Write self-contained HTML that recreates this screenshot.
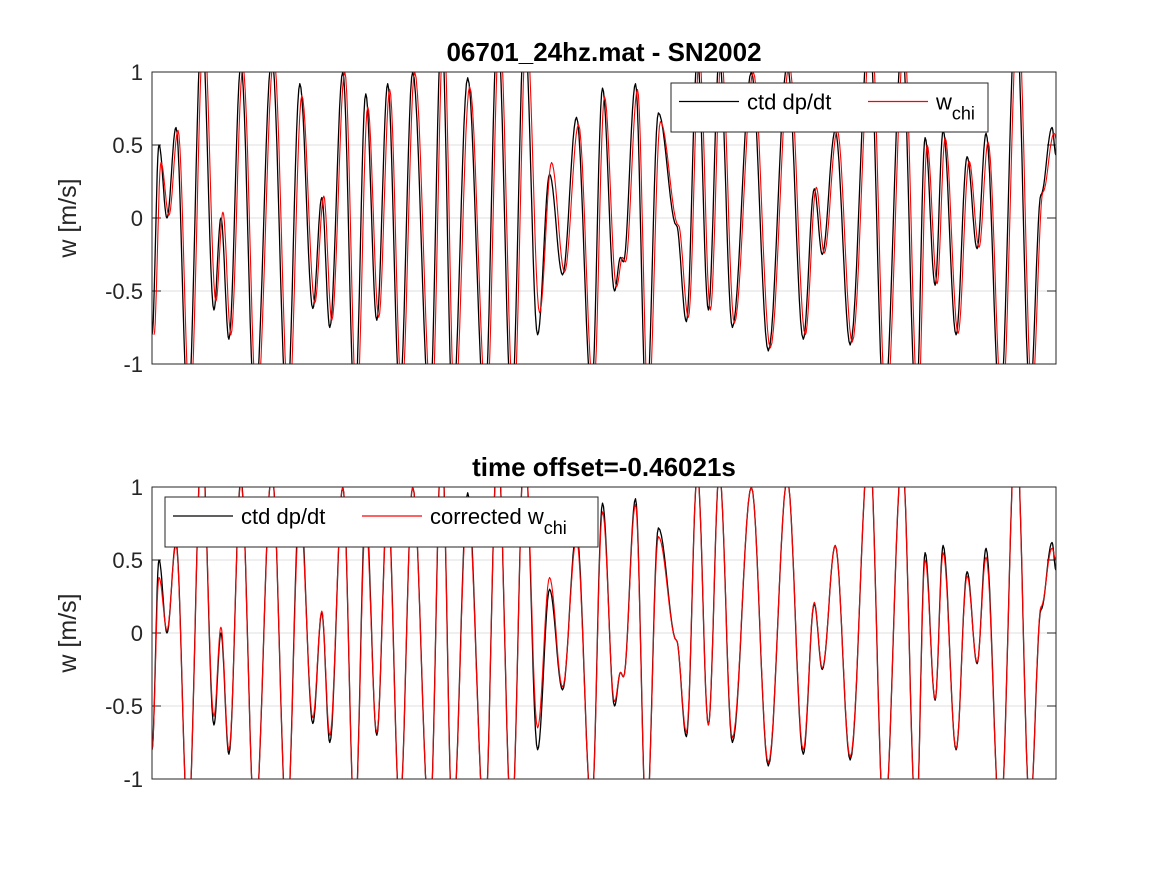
<!DOCTYPE html>
<html><head><meta charset="utf-8"><style>
body{margin:0;background:#fff;}
svg text{font-family:"Liberation Sans",Arial,sans-serif;fill:#262626;}
</style></head><body>
<svg id="fig" width="1167" height="875" xmlns="http://www.w3.org/2000/svg"></svg>
<script>
// extrema time positions (samples) and values
const blackTimes=[0,7,15,24,36,50,62,69,77,89,103,120,135,148,161,170,178,191,203,214,225,236,248,261,278,290,301,316,333,346,360,373,386,398,411,425,440,451,463,469,472,484,495,507,525,535,546,557,568,581,600,617,636,652,663,671,684,699,718,733,751,765,774,784,792,805,816,826,835,849,865,879,890,901,905];
const blackVals=[-0.8,0.5,0.0,0.62,-1.3,1.3,-0.63,0.0,-0.83,1.05,-1.3,1.1,-1.3,0.92,-0.62,0.14,-0.75,1.0,-1.3,0.85,-0.7,0.92,-1.2,1.0,-1.3,1.3,-1.3,0.96,-1.3,1.3,-1.3,1.3,-0.8,0.3,-0.39,0.69,-1.2,0.89,-0.5,-0.27,-0.3,0.92,-1.3,0.72,-0.05,-0.71,1.1,-0.63,1.1,-0.75,1.0,-0.91,1.05,-0.83,0.2,-0.25,0.6,-0.87,1.3,-1.3,1.2,-1.3,0.55,-0.46,0.6,-0.8,0.42,-0.21,0.58,-1.3,1.4,-1.2,0.16,0.62,0.43];
const redVals=[-0.8,0.38,0.02,0.6,-1.3,1.3,-0.57,0.04,-0.8,1.03,-1.3,1.1,-1.3,0.84,-0.58,0.15,-0.7,1.0,-1.3,0.76,-0.68,0.88,-1.2,1.0,-1.3,1.3,-1.3,0.9,-1.3,1.3,-1.3,1.3,-0.65,0.38,-0.37,0.64,-1.2,0.83,-0.47,-0.27,-0.3,0.88,-1.3,0.66,-0.05,-0.68,1.1,-0.63,1.1,-0.72,1.0,-0.89,1.05,-0.8,0.21,-0.24,0.6,-0.85,1.3,-1.3,1.2,-1.3,0.5,-0.45,0.55,-0.79,0.39,-0.2,0.52,-1.3,1.4,-1.2,0.18,0.58,0.5];
const redShiftTop=2;
const yTicks=[1,0.5,0,-0.5,-1];
const tMax=905;

const NS="http://www.w3.org/2000/svg";
const svg=document.getElementById('fig');
function el(tag,attrs,parent){const e=document.createElementNS(NS,tag);for(const k in attrs)e.setAttribute(k,attrs[k]);(parent||svg).appendChild(e);return e;}

function drawAxes(top,title,legend){
  const L=152,R=1056,T=top,B=top+292;
  const xs=t=>L+(t/tMax)*(R-L);
  const ys=v=>T+(1-v)/2*(B-T);
  const g=el('g',{});
  
  
  el('rect',{x:L,y:T,width:R-L,height:B-T,fill:'#fff'},g);
  yTicks.forEach(v=>{
    const gl=el('line',{x1:L,x2:R,y1:ys(v),y2:ys(v),stroke:'#dfdfdf','stroke-width':1},g);
    
    
    el('line',{x1:L,x2:L+9,y1:ys(v),y2:ys(v),stroke:'#262626'},g);
    el('line',{x1:R-9,x2:R,y1:ys(v),y2:ys(v),stroke:'#262626'},g);
    const tx=el('text',{x:L-9,y:ys(v)+8,'text-anchor':'end','font-size':22},g);
    tx.textContent=v;
    
    
  });
  const clipId='c'+top;
  const cp=el('clipPath',{id:clipId},g);
  el('rect',{x:L,y:T,width:R-L,height:B-T},cp);
  function series(times,vals,shift,color,w,name){
    let d='';
    for(let i=0;i<times.length-1;i++){
      const t0=times[i]+shift,t1=times[i+1]+shift,v0=vals[i],v1=vals[i+1];
      const n=12;
      for(let k=0;k<=n;k++){
        const f=k/n,c=(1-Math.cos(Math.PI*f))/2;
        const t=t0+(t1-t0)*f,v=v0+(v1-v0)*c;
        d+=(d?'L':'M')+xs(t).toFixed(1)+','+ys(v).toFixed(1);
      }
    }
    const p=el('path',{d:d,fill:'none',stroke:color,'stroke-width':w,'clip-path':'url(#'+clipId+')','stroke-linejoin':'round'},g);
    
    
  }
  series(blackTimes,blackVals,0,'#000',1.3,'ctd-dpdt-line');
  series(blackTimes,redVals,legend.shift,'#ff0000',1.1,'wchi-line');
  el('rect',{x:L,y:T,width:R-L,height:B-T,fill:'none',stroke:'#262626','stroke-width':1},g);
  const tt=el('text',{x:604,y:T-11,'text-anchor':'middle','font-size':26,'font-weight':'bold',style:'fill:#000'},g);
  tt.textContent=title;
  
  
  const yl=el('text',{x:0,y:0,'text-anchor':'middle','font-size':25,transform:'translate(76,'+(T+146)+') rotate(-90)'},g);
  yl.textContent='w [m/s]';
  
  
  const lg=el('g',{},g);
  
  
  const b=legend.box;
  el('rect',{x:b[0],y:b[1],width:b[2],height:b[3],fill:'#fff',stroke:'#262626'},lg);
  const cy=b[1]+b[3]/2-6;
  el('line',{x1:b[0]+8,x2:b[0]+68,y1:cy,y2:cy,stroke:'#000','stroke-width':1.2},lg);
  const t1=el('text',{x:b[0]+76,y:cy+8,'font-size':22,style:'fill:#000'},lg);
  t1.textContent='ctd dp/dt';
  
  
  el('line',{x1:legend.x2,x2:legend.x2+60,y1:cy,y2:cy,stroke:'#ff0000','stroke-width':1.2},lg);
  const t2=el('text',{x:legend.x2+68,y:cy+8,'font-size':22,style:'fill:#000'},lg);
  t2.innerHTML=legend.label+'w<tspan font-size="18" dy="10">chi</tspan>';
  
  
}
drawAxes(72,'06701_24hz.mat - SN2002',{name:'top-axes',box:[671,83,317,49],x2:868,label:'',shift:redShiftTop});
drawAxes(487,'time offset=-0.46021s',{name:'bottom-axes',box:[165,497,433,50],x2:362,label:'corrected ',shift:0});
</script>
</body></html>
